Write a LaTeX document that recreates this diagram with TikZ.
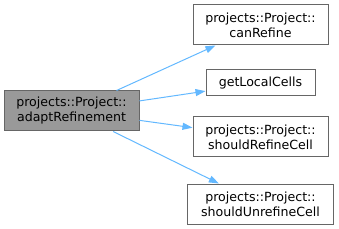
\documentclass[tikz,border=0pt]{standalone}
\usepackage{fontspec}
\setmainfont{DejaVu Sans}
\usetikzlibrary{arrows.meta}
\definecolor{edgeblue}{HTML}{63B8FF}
\definecolor{curgray}{HTML}{999999}
\definecolor{linegray}{HTML}{666666}

\begin{document}
\begin{tikzpicture}[x=1pt,y=-1pt,
  fn/.style={draw=linegray,fill=white,line width=1pt,inner sep=0pt,align=center,font=\fontsize{12.6}{15}\selectfont},
  call/.style={draw=edgeblue,line width=1pt,-{Stealth[inset=0pt,length=10pt,width=7pt]}}]
\useasboundingbox (0,0) rectangle (339,229);
\node[fn,fill=curgray,minimum width=135,minimum height=40] (adapt) at (71.5,111) {projects::Project::\\adaptRefinement};
\foreach \nm/\yy/\ww/\hh/\txt in {canRefine/25/135/40/{projects::Project::\\canRefine},
    getLocalCells/83/109/26/{getLocalCells},
    shouldRefineCell/137/135/40/{projects::Project::\\shouldRefineCell},
    shouldUnrefineCell/204/146/40/{projects::Project::\\shouldUnrefineCell}}
  {\node[fn,minimum width=\ww,minimum height=\hh] (\nm) at (260.5,\yy) {\txt};
   \draw[call] (adapt) -- (\nm);}
\end{tikzpicture}
\end{document}
